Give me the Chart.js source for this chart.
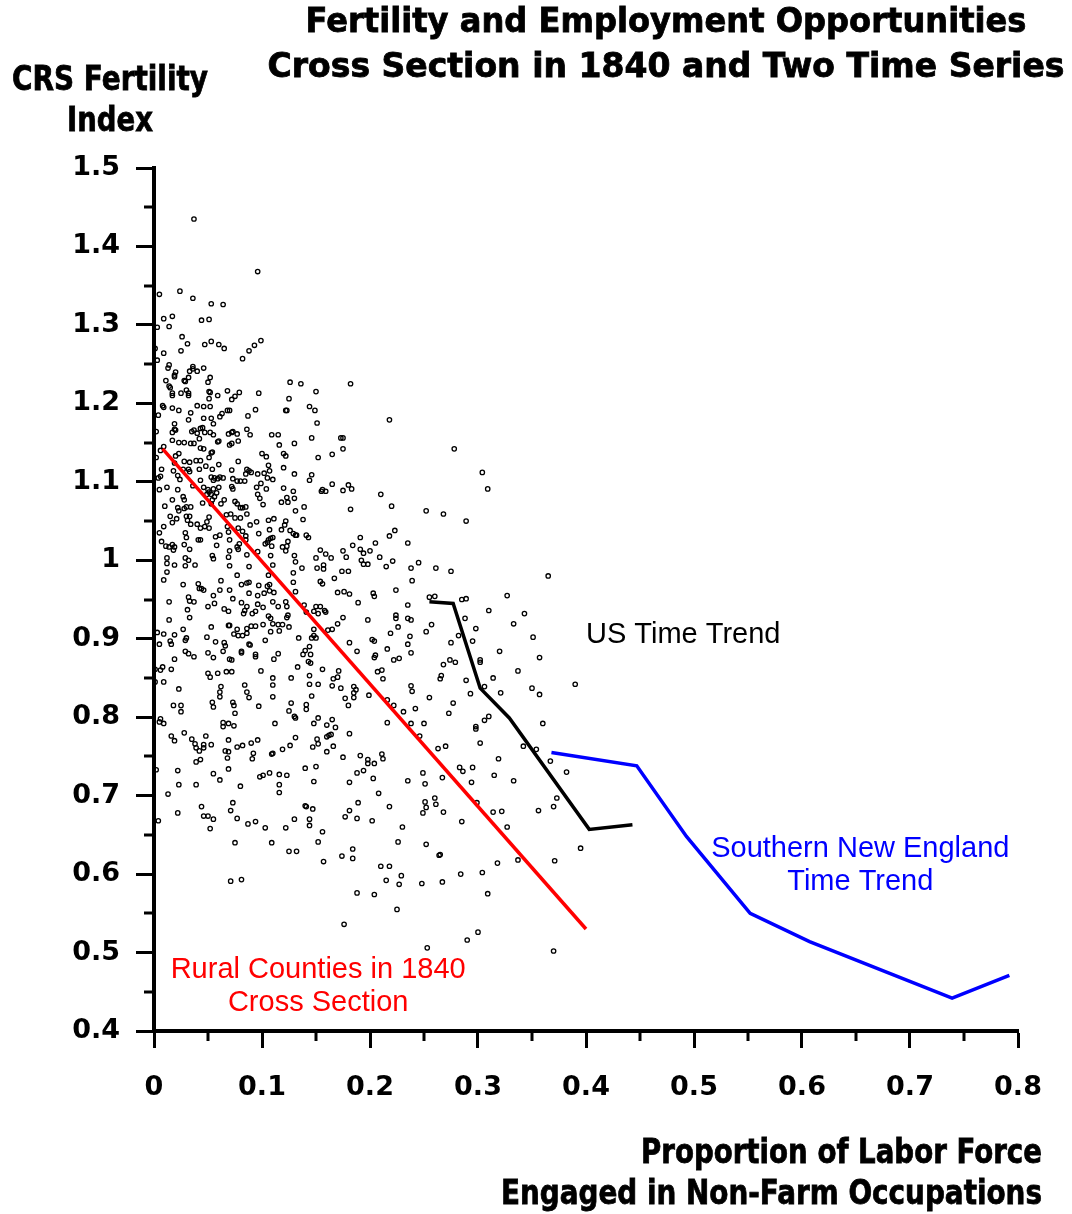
<!DOCTYPE html>
<html><head><meta charset="utf-8">
<script src="https://cdn.jsdelivr.net/npm/chart.js@4.4.1/dist/chart.umd.min.js"></script>
<style>html,body{margin:0;padding:0;background:#fff}#wrap{width:1072px;height:1214px;position:relative}</style>
</head><body><div id="wrap"><canvas id="c"></canvas></div>
<script>
// ---------- DATA ----------
const xTicks = [0,0.1,0.2,0.3,0.4,0.5,0.6,0.7,0.8];
const xTickLabels = ['0','0.1','0.2','0.3','0.4','0.5','0.6','0.7','0.8'];
const yTicks = [0.4,0.5,0.6,0.7,0.8,0.9,1.0,1.1,1.2,1.3,1.4,1.5];
const yTickLabels = ['0.4','0.5','0.6','0.7','0.8','0.9','1','1.1','1.2','1.3','1.4','1.5'];
const xMinorTicks = [0.05,0.15,0.25,0.35,0.45,0.55,0.65,0.75];
const yMinorTicks = [0.45,0.55,0.65,0.75,0.85,0.95,1.05,1.15,1.25,1.35,1.45];

const ruralFitX = [0.008,0.400];
const ruralFitY = [1.142,0.530];
const usTrendX = [0.255,0.277,0.302,0.329,0.403,0.443];
const usTrendY = [0.947,0.945,0.837,0.799,0.657,0.663];
const sneTrendX = [0.368,0.447,0.493,0.552,0.607,0.739,0.792];
const sneTrendY = [0.755,0.738,0.648,0.550,0.514,0.442,0.471];

const countyPoints = [
[.037,1.435],[.096,1.368],[.005,1.339],[.024,1.343],[.036,1.334],[.053,1.327],[.064,1.326],[.009,1.308],[.017,1.311],[.044,1.306],[.051,1.307],[.003,1.297],[.014,1.298],[.026,1.285],[.031,1.276],[.047,1.275],[.053,1.279],[.060,1.275],[.065,1.270],[.093,1.274],[.099,1.280],[.088,1.267],[.082,1.257],[.001,1.270],[.009,1.264],[.025,1.267],[.003,1.255],[.014,1.249],[.013,1.245],[.036,1.247],[.036,1.244],[.033,1.241],[.040,1.241],[.046,1.245],[.020,1.240],[.019,1.236],[.019,1.234],[.032,1.233],[.052,1.233],[.050,1.227],[.011,1.229],[.028,1.229],[.029,1.228],[.014,1.222],[.015,1.220],[.017,1.213],[.017,1.210],[.025,1.213],[.030,1.217],[.032,1.213],[.032,1.210],[.051,1.215],[.052,1.214],[.059,1.210],[.068,1.216],[.079,1.214],[.075,1.209],[.072,1.205],[.051,1.206],[.097,1.213],[.126,1.227],[.136,1.225],[.150,1.215],[.182,1.225],[.125,1.206],
[.008,1.197],[.009,1.195],[.017,1.194],[.023,1.191],[.034,1.188],[.040,1.197],[.046,1.196],[.052,1.196],[.070,1.191],[.068,1.191],[.094,1.192],[.122,1.191],[.123,1.191],[.144,1.196],[.149,1.191],[.004,1.185],
[.019,1.174],[.019,1.167],[.017,1.163],[.020,1.166],[.032,1.179],[.046,1.181],[.053,1.181],[.061,1.183],[.063,1.187],[.055,1.174],[.045,1.169],[.043,1.168],[.037,1.166],[.035,1.164],[.040,1.162],[.042,1.155],[.047,1.163],[.052,1.163],[.055,1.160],[.059,1.151],[.060,1.152],[.069,1.161],[.072,1.163],[.073,1.164],[.077,1.161],[.078,1.152],[.072,1.149],[.070,1.147],[.086,1.167],[.089,1.160],[.109,1.160],[.115,1.160],[.130,1.149],[.116,1.147],[.146,1.156],[.151,1.175],[.087,1.184],[.173,1.156],[.175,1.156],[.175,1.142],[.165,1.135],[.152,1.131],[.002,1.164],[.002,1.131],[.017,1.153],[.023,1.150],[.028,1.150],[.034,1.149],[.037,1.149],[.043,1.143],[.046,1.142],[.054,1.138],[.053,1.137],
[.006,1.140],[.009,1.145],[.020,1.133],[.023,1.136],[.028,1.126],[.033,1.125],[.039,1.127],[.043,1.127],[.048,1.120],[.054,1.116],[.051,1.131],[.060,1.122],[.042,1.116],[.032,1.116],[.027,1.116],[.019,1.124],[.007,1.116],[.004,1.105],[.006,1.107],[.018,1.114],[.022,1.108],[.024,1.103],[.033,1.113],[.043,1.102],[.053,1.106],[.056,1.105],[.061,1.106],[.064,1.105],[.055,1.102],[.059,1.104],[.072,1.115],[.078,1.126],[.086,1.116],[.088,1.114],[.090,1.112],[.085,1.110],[.096,1.110],[.100,1.136],[.104,1.132],[.106,1.121],[.102,1.111],[.107,1.114],[.105,1.105],[.110,1.103],[.120,1.136],[.122,1.133],[.120,1.118],[.130,1.110],[.144,1.102],[.146,1.109],[.165,1.097],[.073,1.104],[.077,1.101],[.080,1.101],[.084,1.101],[.099,1.098],[.095,1.093],[.104,1.091],[.120,1.092],[.129,1.088],[.123,1.080],[.124,1.074],[.130,1.079],[.118,1.074],[.156,1.090],[.155,1.088],[.159,1.088],[.175,1.089],[.180,1.096],[.183,1.091],
[.005,1.090],[.012,1.093],[.022,1.090],[.036,1.095],[.046,1.093],[.050,1.090],[.055,1.091],[.051,1.087],[.049,1.084],[.053,1.084],[.058,1.086],[.060,1.093],[.056,1.081],[.054,1.077],[.053,1.072],[.045,1.073],[.073,1.091],[.072,1.094],[.065,1.077],[.075,1.075],[.077,1.072],[.062,1.072],[.080,1.067],[.082,1.067],[.085,1.068],[.096,1.084],[.098,1.079],[.101,1.071],[.017,1.077],[.027,1.081],[.028,1.077],[.010,1.069],[.022,1.067],[.023,1.063],[.028,1.066],[.030,1.068],[.034,1.068],[.015,1.056],[.017,1.048],[.021,1.053],[.030,1.056],[.033,1.056],[.031,1.051],[.034,1.046],[.040,1.046],[.043,1.041],[.047,1.043],[.051,1.041],[.049,1.049],[.051,1.055],[.067,1.058],[.071,1.059],[.075,1.054],[.080,1.054],[.086,1.059],[.089,1.045],[.095,1.049],[.106,1.051],[.111,1.053],[.121,1.045],[.122,1.050],[.131,1.063],[.139,1.068],[.182,1.065],[.131,1.032],[.138,1.052],
[.009,1.043],[.005,1.035],[.029,1.035],[.030,1.029],[.041,1.026],[.043,1.026],[.057,1.030],[.061,1.032],[.068,1.043],[.069,1.036],[.070,1.026],[.078,1.041],[.082,1.037],[.085,1.031],[.097,1.034],[.107,1.039],[.118,1.039],[.126,1.038],[.129,1.034],[.132,1.032],[.141,1.032],[.143,1.029],[.191,1.029],[.007,1.024],[.011,1.018],[.014,1.017],[.017,1.020],[.019,1.017],[.018,1.013],[.028,1.020],[.033,1.014],[.058,1.019],[.070,1.012],[.069,1.004],[.077,1.017],[.079,1.021],[.078,1.014],[.085,1.026],[.086,1.007],[.096,1.011],[.103,1.021],[.105,1.023],[.106,1.026],[.108,1.028],[.110,1.029],[.109,1.018],[.119,1.017],[.122,1.012],[.123,1.018],[.124,1.024],[.130,1.006],[.131,.998],[.154,1.013],[.159,1.008],[.164,1.003],[.175,1.012],[.178,1.004],[.184,1.019],[.191,1.014],[.194,1.009],[.192,1.000],[.194,.995],[.198,.995],[.150,1.003],
[.012,1.003],[.012,.996],[.012,.985],[.019,.994],[.029,1.003],[.032,1.000],[.029,.993],[.038,.994],[.054,1.006],[.055,1.002],[.070,.993],[.088,.992],[.108,1.006],[.110,.994],[.129,.984],[.137,.990],[.151,.990],[.157,.994],[.157,.989],[.167,.977],[.174,.986],[.180,.986],[.009,.975],[.027,.969],[.041,.970],[.042,.964],[.044,.964],[.046,.962],[.055,.955],[.062,.974],[.061,.962],[.070,.962],[.077,.981],[.081,.969],[.086,.971],[.088,.972],[.097,.968],[.106,.981],[.105,.967],[.107,.969],[.111,.959],[.107,.961],[.102,.958],[.096,.955],[.088,.958],[.073,.951],[.032,.953],[.129,.972],[.154,.973],[.156,.970],[.170,.959],[.176,.960],[.181,.957],[.131,.960],
[.014,.947],[.033,.948],[.037,.947],[.050,.941],[.056,.945],[.065,.938],[.069,.935],[.081,.946],[.086,.941],[.084,.936],[.083,.932],[.091,.932],[.094,.935],[.096,.944],[.101,.940],[.110,.947],[.115,.941],[.122,.947],[.123,.941],[.139,.943],[.150,.941],[.154,.941],[.158,.936],[.159,.934],[.148,.935],[.152,.932],[.141,.934],[.189,.946],[.031,.937],[.033,.927],[.014,.924],[.003,.908],[.009,.906],[.019,.905],[.027,.912],[.015,.897],[.016,.893],[.005,.893],[.029,.884],[.032,.881],[.037,.877],[.029,.898],[.030,.901],[.053,.915],[.049,.902],[.057,.896],[.065,.895],[.066,.891],[.064,.884],[.050,.882],[.055,.876],[.069,.917],[.070,.917],[.074,.906],[.078,.904],[.077,.912],[.082,.904],[.086,.907],[.090,.916],[.094,.916],[.101,.918],[.086,.913],[.088,.893],[.089,.892],[.103,.898],[.106,.929],[.108,.926],[.110,.919],[.115,.918],[.119,.918],[.124,.930],[.123,.927],[.125,.915],[.108,.909],[.116,.910],[.134,.901],[.148,.912],[.148,.904],[.150,.901],[.161,.911],[.165,.912],[.170,.919],[.175,.927],[.198,.924],[.181,.895],[.188,.884],[.081,.884],[.081,.882],[.094,.880],[.094,.877],[.111,.874],[.115,.881],[.070,.874],[.072,.873],[.099,.859],[.019,.874],[.016,.861],[.008,.864],[.006,.860],[.001,.861],[.009,.845],[.001,.845],[.023,.836],[.050,.856],[.052,.851],[.059,.856],[.067,.858],[.072,.858],[.084,.841],[.086,.832],[.088,.825],[.110,.850],[.110,.841],[.110,.826],[.127,.850],[.133,.864],[.143,.871],[.145,.869],[.145,.880],[.140,.885],[.138,.880],[.144,.890],[.146,.901],[.156,.861],[.171,.859],[.166,.849],[.170,.851],[.144,.853],[.152,.842],[.144,.842],[.165,.840],[.173,.837],[.185,.839],[.187,.835],[.185,.831],[.185,.825],[.177,.824],[.199,.828],[.180,.815],[.146,.827],[.141,.816],[.141,.810],[.127,.818],[.125,.808],[.130,.801],[.131,.799],[.097,.814],[.075,.805],[.074,.815],[.073,.819],[.062,.839],[.061,.832],[.061,.826],[.054,.819],[.055,.813],[.018,.815],[.025,.815],[.025,.807],[.006,.798],[.005,.794],[.009,.792],[.028,.780],[.064,.793],[.064,.788],[.069,.792],[.074,.789],[.112,.792],[.148,.792],[.152,.799],[.165,.797],[.160,.790],[.168,.787],[.181,.779],[.131,.774],[.151,.772],[.152,.766],[.147,.762],[.160,.775],[.162,.777],[.164,.778],[.166,.763],[.160,.756],[.175,.749],[.191,.751],[.198,.746],[.198,.741],[.188,.729],[.194,.732],[.181,.717],[.016,.776],[.019,.770],[.035,.772],[.038,.766],[.039,.761],[.042,.757],[.046,.765],[.048,.776],[.046,.761],[.053,.765],[.066,.757],[.069,.771],[.069,.756],[.068,.748],[.077,.762],[.082,.764],[.090,.767],[.096,.771],[.092,.754],[.091,.747],[.109,.753],[.110,.754],[.119,.759],[.126,.764],[.043,.746],[.039,.743],[.022,.732],[.002,.733],[.055,.728],[.069,.734],[.061,.720],[.023,.714],[.039,.714],[.080,.712],[.098,.724],[.101,.726],[.107,.729],[.116,.727],[.123,.726],[.116,.714],[.116,.704],[.140,.735],[.150,.737],[.148,.718],[.013,.702],
[.004,.668],[.022,.678],[.044,.686],[.046,.674],[.050,.674],[.055,.670],[.052,.658],[.071,.681],[.073,.691],[.077,.671],[.087,.664],[.094,.667],[.103,.659],[.122,.659],[.130,.670],[.140,.687],[.141,.686],[.147,.683],[.144,.670],[.144,.662],[.156,.654],[.152,.641],[.177,.673],[.181,.681],[.188,.671],[.189,.691],[.075,.640],[.109,.640],[.125,.629],[.132,.629],[.157,.616],[.174,.623],[.184,.632],[.184,.620],[.071,.591],[.081,.593],[.188,.576],[.176,.536],
[.218,1.179],[.278,1.142],[.304,1.112],[.309,1.091],[.210,1.084],[.220,1.069],[.252,1.063],[.268,1.059],[.289,1.050],[.223,1.038],[.218,1.031],[.205,1.022],[.235,1.022],[.200,1.012],[.209,1.004],[.221,.999],[.215,.992],[.245,.997],[.238,.990],[.261,.990],[.275,.986],[.365,.980],[.239,.974],[.224,.962],[.203,.958],[.204,.954],[.255,.953],[.260,.954],[.285,.950],[.289,.951],[.327,.955],
[.235,.943],[.310,.936],[.343,.932],[.333,.919],[.351,.902],[.288,.926],[.298,.913],[.224,.930],[.224,.926],[.235,.926],[.238,.924],[.226,.915],[.219,.907],[.237,.903],[.235,.893],[.257,.918],[.252,.909],[.275,.895],[.282,.904],[.295,.897],[.202,.899],[.204,.897],[.216,.887],[.205,.879],[.204,.876],[.222,.873],[.227,.875],[.238,.882],[.320,.884],[.357,.876],[.268,.867],[.274,.873],[.279,.870],[.302,.873],[.302,.870],[.337,.859],[.207,.858],[.211,.860],[.212,.849],[.265,.849],[.266,.853],[.289,.847],[.314,.850],[.306,.839],[.293,.830],[.321,.831],[.350,.837],[.357,.829],[.390,.842],[.238,.840],[.239,.833],[.255,.825],[.277,.818],[.216,.822],[.222,.815],[.231,.807],[.242,.811],[.273,.805],[.216,.793],[.238,.792],[.250,.792],[.246,.776],[.306,.796],[.310,.801],[.298,.788],[.298,.785],[.360,.792],[.302,.767],[.263,.760],[.270,.763],[.342,.763],[.354,.759],[.367,.744],[.382,.730],[.211,.753],[.212,.747],[.204,.741],[.319,.747],[.283,.736],[.286,.731],[.295,.736],[.315,.726],[.333,.719],[.249,.729],[.235,.719],[.251,.715],[.267,.723],[.294,.717],[.203,.722],[.208,.703],[.218,.686],[.260,.697],[.251,.692],[.252,.685],[.261,.689],[.249,.678],[.268,.679],[.299,.691],[.314,.679],[.322,.680],[.356,.681],[.370,.686],[.373,.697],[.202,.668],[.230,.660],[.285,.667],[.327,.660],[.226,.641],[.252,.638],[.264,.624],[.265,.625],[.395,.633],[.337,.618],[.371,.617],[.318,.614],[.210,.610],[.218,.610],[.229,.598],[.227,.587],[.215,.592],[.248,.588],[.267,.590],[.284,.600],[.304,.602],[.309,.575],[.204,.574],[.225,.555],[.300,.526],[.290,.516],[.253,.506],[.370,.502]
];

// ---------- TEXT ----------
const titleLines = ['Fertility and Employment Opportunities','Cross Section in 1840 and Two Time Series'];
const yTitleLines = ['CRS Fertility','Index'];
const xTitleLines = ['Proportion of Labor Force','Engaged in Non-Farm Occupations'];
const annotations = [
  {text:'US Time Trend', x:0.400, y:0.905, align:'left', color:'#000000'},
  {text:'Southern New England', x:0.654, y:0.632, align:'center', color:'#0000ff'},
  {text:'Time Trend', x:0.654, y:0.590, align:'center', color:'#0000ff'},
  {text:'Rural Counties in 1840', x:0.152, y:0.478, align:'center', color:'#ff0000'},
  {text:'Cross Section', x:0.152, y:0.436, align:'center', color:'#ff0000'}
];

function heavyText(ctx, text, x, y, targetW, align){
  ctx.save();
  ctx.font = 'bold 33px "DejaVu Sans"';
  const w = ctx.measureText(text).width;
  const s = targetW / w;
  ctx.translate(x, y);
  ctx.scale(s, 1);
  ctx.textAlign = align;
  ctx.textBaseline = 'middle';
  ctx.fillStyle = '#000';
  ctx.strokeStyle = '#000';
  ctx.lineWidth = 0.8;
  ctx.fillText(text, 0, 0);
  ctx.strokeText(text, 0, 0);
  ctx.restore();
}

const decorPlugin = {
  id: 'decor',
  afterDraw(chart){
    const ctx = chart.ctx, xs = chart.scales.x, ys = chart.scales.y, ca = chart.chartArea;
    ctx.save();
    ctx.strokeStyle = '#000'; ctx.lineWidth = 3;
    xMinorTicks.forEach(v => { const p = Math.round(xs.getPixelForValue(v)); ctx.beginPath(); ctx.moveTo(p, ca.bottom); ctx.lineTo(p, ca.bottom + 10); ctx.stroke(); });
    yMinorTicks.forEach(v => { const p = Math.round(ys.getPixelForValue(v)); ctx.beginPath(); ctx.moveTo(ca.left - 10, p); ctx.lineTo(ca.left, p); ctx.stroke(); });
    ctx.restore();
    heavyText(ctx, titleLines[0], 666, 23, 721, 'center');
    heavyText(ctx, titleLines[1], 666, 68, 797, 'center');
    heavyText(ctx, yTitleLines[0], 110, 81, 196, 'center');
    heavyText(ctx, yTitleLines[1], 110, 122, 86, 'center');
    heavyText(ctx, xTitleLines[0], 1042, 1154, 401, 'right');
    heavyText(ctx, xTitleLines[1], 1042, 1195, 541, 'right');
    ctx.save();
    ctx.font = '29px "Liberation Sans"';
    ctx.textBaseline = 'middle';
    annotations.forEach(a => {
      ctx.fillStyle = a.color; ctx.textAlign = a.align;
      ctx.fillText(a.text, xs.getPixelForValue(a.x), ys.getPixelForValue(a.y));
    });
    ctx.restore();
  }
};

const toXY = (xa, ya) => xa.map((x, i) => ({x, y: ya[i]}));

new Chart(document.getElementById('c'), {
  type: 'scatter',
  data: {
    datasets: [
      {label:'US Time Trend', data: toXY(usTrendX, usTrendY), showLine:true, borderColor:'#000000', borderWidth:3.5, pointRadius:0, tension:0, fill:false},
      {label:'Southern New England Time Trend', data: toXY(sneTrendX, sneTrendY), showLine:true, borderColor:'#0000ff', borderWidth:3.5, pointRadius:0, tension:0, fill:false},
      {label:'Rural Counties in 1840 Cross Section', data: toXY(ruralFitX, ruralFitY), showLine:true, borderColor:'#ff0000', borderWidth:3.5, pointRadius:0, tension:0, fill:false},
      {label:'Counties', data: countyPoints.map(p => ({x:p[0], y:p[1]})), showLine:false, pointRadius:2.2, pointBorderWidth:1.3, pointBorderColor:'#000', pointBackgroundColor:'rgba(255,255,255,0)'}
    ]
  },
  options: {
    responsive: true, maintainAspectRatio: false, devicePixelRatio: 1, animation: false,
    layout: {padding: {top:168, right:54, bottom:0, left:0}},
    plugins: {legend:{display:false}, tooltip:{enabled:false}, title:{display:false}},
    scales: {
      x: {
        type:'linear', min:0, max:0.8,
        afterBuildTicks: s => { s.ticks = xTicks.map(v => ({value:v})); },
        afterFit: s => { s.height = 183; },
        ticks: {callback: (v, i) => xTickLabels[i], color:'#000', padding:24, maxRotation:0, autoSkip:false, font:{family:'DejaVu Sans', weight:'bold', size:27}},
        grid: {display:true, drawOnChartArea:false, drawTicks:true, tickLength:17, tickWidth:3, tickColor:'#000'},
        border: {display:true, color:'#000', width:4}
      },
      y: {
        type:'linear', min:0.4, max:1.5,
        afterBuildTicks: s => { s.ticks = yTicks.map(v => ({value:v})); },
        afterFit: s => { s.width = 154; },
        ticks: {callback: (v, i) => yTickLabels[i], color:'#000', padding:16, autoSkip:false, font:{family:'DejaVu Sans', weight:'bold', size:27}},
        grid: {display:true, drawOnChartArea:false, drawTicks:true, tickLength:18, tickWidth:3, tickColor:'#000'},
        border: {display:true, color:'#000', width:4}
      }
    }
  },
  plugins: [decorPlugin]
});
</script>
</body></html>
